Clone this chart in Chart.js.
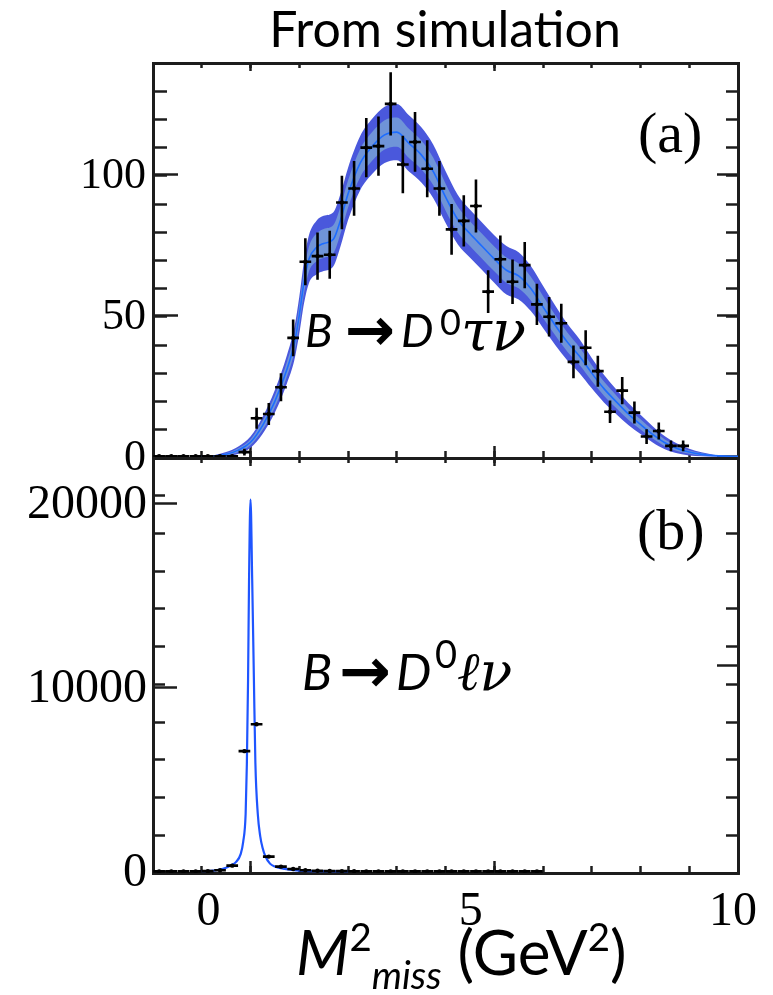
<!DOCTYPE html>
<html>
<head>
<meta charset="utf-8">
<script src="https://cdn.jsdelivr.net/npm/chart.js@4.4.1/dist/chart.umd.min.js"></script>
<style>
  html, body { margin: 0; padding: 0; background: #fff; }
  body { width: 773px; height: 995px; position: relative; overflow: hidden; }
  canvas { position: absolute; left: 0; top: 0; }
  .lbl { position: absolute; white-space: nowrap; color: #000; }
  .bl { display: inline-block; width: 0; height: 0; }
  .sup { font-size: 0.62em; position: relative; top: -0.62em; }
  .sub { font-size: 0.62em; position: relative; top: 0.36em; }
</style>
</head>
<body>
<canvas id="chartA" width="773" height="995"></canvas>
<canvas id="chartB" width="773" height="995"></canvas>
<script>
// panel (a): B -> D0 tau nu, simulated events per 0.25 GeV^2 bin
const binsA = [-1.875, -1.625, -1.375, -1.125, -0.875, -0.625, -0.375, -0.125,
  0.125, 0.375, 0.625, 0.875, 1.125, 1.375, 1.625, 1.875, 2.125, 2.375, 2.625, 2.875,
  3.125, 3.375, 3.625, 3.875, 4.125, 4.375, 4.625, 4.875, 5.125, 5.375, 5.625, 5.875,
  6.125, 6.375, 6.625, 6.875, 7.125, 7.375, 7.625, 7.875, 8.125, 8.375, 8.625, 8.875];
const countsA = [0, 0, 0, 0, 0, 0, 0, 1.5,
  13.5, 15.0, 24.5, 42.0, 69.0, 71.0, 71.5, 90.0, 95.0, 109.5, 110.0, 125.0,
  103.5, 111.5, 102.0, 95.0, 80.5, 83.5, 88.8, 58.4, 69.9, 61.9, 67.8, 53.9,
  49.5, 47.2, 33.5, 38.5, 30.2, 15.8, 23.3, 15.5, 7.0, 9.0, 3.7, 3.7];
const errorsA = [0, 0, 0, 0, 0, 0, 0, 1.2,
  3.7, 3.9, 5.0, 6.5, 8.3, 8.4, 8.5, 9.5, 9.7, 10.5, 10.5, 11.2,
  10.2, 10.6, 10.1, 9.7, 9.0, 9.1, 9.4, 7.6, 8.4, 7.9, 8.2, 7.3,
  7.0, 6.9, 5.8, 6.2, 5.5, 4.0, 4.8, 3.9, 2.6, 3.0, 1.9, 1.9];

// fitted shape for (a) with its two error bands (half widths)
const fitXA = [-1, -0.75, -0.5, -0.25, 0, 0.25, 0.5, 0.75, 0.9, 1.0, 1.1, 1.2, 1.35, 1.5,
  1.7, 1.85, 2.0, 2.25, 2.5, 2.75, 3.0, 3.25, 3.5, 3.75, 4.0, 4.25, 4.5, 4.75, 5.0,
  5.25, 5.5, 5.75, 6.0, 6.25, 6.5, 6.75, 7.0, 7.25, 7.5, 7.75, 8.0, 8.25, 8.5, 8.75,
  9.0, 9.25, 9.5, 9.75, 10];
const fitYA = [0, 0.1, 0.7, 2.2, 5.0, 11, 19.5, 31, 40, 50, 62, 70, 74, 75.5,
  77, 84, 93, 104, 110, 114, 115, 111, 107, 101, 92, 84, 79, 74.5, 70,
  66, 64, 59.5, 53, 46.5, 40.5, 35.5, 29.5, 24, 19.4, 15, 11.3, 7.8, 4.8, 2.8,
  1.5, 0.7, 0.25, 0.05, 0];
const bandOuterA = [0, 0.3, 0.8, 1.3, 2.0, 3.0, 4.0, 5.0, 5.8, 6.5, 7.5, 8.5, 9.5, 9.8,
  9.6, 9.3, 9.3, 9.6, 9.8, 10, 10, 10, 9.8, 9.5, 9.2, 8.8, 8.5, 8.4, 8.4,
  8.6, 8.4, 8.0, 7.5, 7.0, 6.5, 6.0, 5.4, 4.9, 4.4, 3.9, 3.4, 2.9, 2.3, 1.7,
  1.2, 0.7, 0.3, 0.1, 0];
const bandInnerA = [0, 0.15, 0.4, 0.7, 1.0, 1.6, 2.1, 2.6, 3.0, 3.4, 3.9, 4.4, 4.9, 5.1,
  5.0, 4.8, 4.8, 5.0, 5.1, 5.2, 5.2, 5.2, 5.1, 4.9, 4.8, 4.6, 4.4, 4.4, 4.4,
  4.5, 4.4, 4.2, 3.9, 3.6, 3.4, 3.1, 2.8, 2.5, 2.3, 2.0, 1.8, 1.5, 1.2, 0.9,
  0.6, 0.4, 0.15, 0.05, 0];

// panel (b): B -> D0 l nu
const binsB = [-1.875, -1.625, -1.375, -1.125, -0.875, -0.625, -0.375, -0.125,
  0.125, 0.375, 0.625, 0.875, 1.125, 1.375, 1.625, 1.875, 2.125, 2.375, 2.625, 2.875,
  3.125, 3.375, 3.625, 3.875, 4.125, 4.375, 4.625, 4.875, 5.125, 5.375, 5.625, 5.875];
const countsB = [0, 0, 0, 0, 10, 60, 310, 6530,
  7990, 800, 255, 130, 60, 30, 15, 10, 5, 0, 0, 0,
  0, 0, 0, 0, 0, 0, 0, 0, 0, 0, 0, 0];
const errorsB = [0, 0, 0, 0, 3, 8, 18, 81,
  89, 28, 16, 11, 8, 5, 4, 3, 2, 0, 0, 0,
  0, 0, 0, 0, 0, 0, 0, 0, 0, 0, 0, 0];
const fitXB = [-1, -0.75, -0.5, -0.4, -0.3, -0.2, -0.15, -0.1, -0.075, -0.05, -0.03, 0,
  0.035, 0.07, 0.1, 0.15, 0.2, 0.25, 0.3, 0.4, 0.5, 0.7, 1.0, 1.5, 2];
const fitYB = [5, 40, 200, 330, 500, 950, 1600, 3100, 5800, 10400, 15800, 20200,
  15800, 10400, 5900, 3100, 1900, 1250, 850, 420, 260, 130, 40, 10, 0];

// axes
const xRange = [-2, 10];
const yRangeA = [-0.6, 139.5];
const yRangeB = [-90, 22460];
const yTicksA = [0, 50, 100];
const yTicksB = [0, 10000, 20000];
const xTickLabels = [0, 5, 10];
const binHalf = 0.12;

const frame = '#1d1d1d';
const serif = 'Liberation Serif';

function zeroSize(s) { if (s.isHorizontal()) s.height = 0; else s.width = 0; }

function tickAxis(position, range, step, len, weight, withBorder) {
  return {
    type: 'linear', display: true, position, min: range[0], max: range[1], weight,
    grid: { drawOnChartArea: false, drawTicks: true, tickLength: -len, tickWidth: 2.5, tickColor: frame },
    border: { display: withBorder, width: 3, color: frame },
    ticks: { display: false, stepSize: step, includeBounds: false },
    afterFit: zeroSize
  };
}

function labelAxisY(range, ticks, len, size, pad) {
  return {
    type: 'linear', position: 'left', min: range[0], max: range[1], weight: 1,
    grid: { drawOnChartArea: false, tickLength: -len, tickWidth: 2.5, tickColor: frame },
    border: { display: true, width: 3, color: frame },
    ticks: { padding: pad, labelOffset: 2, color: '#000', autoSkip: false,
      font: { family: serif, size: size }, callback: v => String(v) },
    afterBuildTicks: s => { s.ticks = ticks.map(v => ({ value: v })); },
    afterFit: s => { s.width = 153; }
  };
}

function vBars(xs, ys, es) {
  const out = [];
  xs.forEach((x, i) => { out.push({ x, y: ys[i] - es[i] }, { x, y: ys[i] + es[i] }, { x, y: null }); });
  return out;
}
function hBars(xs, ys) {
  const out = [];
  xs.forEach((x, i) => { out.push({ x: x - binHalf, y: ys[i] }, { x: x + binHalf, y: ys[i] }, { x, y: null }); });
  return out;
}
const pts = (xs, ys) => xs.map((x, i) => ({ x, y: ys[i] }));

function barSets(xs, ys, es) {
  return [
    { data: vBars(xs, ys, es), borderColor: '#000', borderWidth: 2.6, pointRadius: 0, spanGaps: false, order: 1 },
    { data: hBars(xs, ys), borderColor: '#000', borderWidth: 2.6, pointRadius: 0, spanGaps: false, order: 1 },
    { data: pts(xs, ys), showLine: false, pointRadius: 2.2, pointBorderWidth: 0, pointBackgroundColor: '#000', order: 0 }
  ];
}

const common = {
  responsive: false, animation: false, events: [],
  plugins: { legend: { display: false }, tooltip: { enabled: false } }
};

// top chart (a)
new Chart(document.getElementById('chartA'), {
  type: 'line',
  data: {
    datasets: [
      { data: fitXA.map((x, i) => ({ x, y: fitYA[i] + bandOuterA[i] })), fill: '+1', backgroundColor: '#4a58dc',
        borderWidth: 0, borderColor: 'transparent', pointRadius: 0, cubicInterpolationMode: 'monotone', order: 4 },
      { data: fitXA.map((x, i) => ({ x, y: fitYA[i] - bandOuterA[i] })), fill: false,
        borderWidth: 0, borderColor: 'transparent', pointRadius: 0, cubicInterpolationMode: 'monotone', order: 4 },
      { data: fitXA.map((x, i) => ({ x, y: fitYA[i] + bandInnerA[i] })), fill: '+1', backgroundColor: '#6f94d8',
        borderWidth: 0, borderColor: 'transparent', pointRadius: 0, cubicInterpolationMode: 'monotone', order: 3 },
      { data: fitXA.map((x, i) => ({ x, y: fitYA[i] - bandInnerA[i] })), fill: false,
        borderWidth: 0, borderColor: 'transparent', pointRadius: 0, cubicInterpolationMode: 'monotone', order: 3 },
      { data: pts(fitXA, fitYA), borderColor: '#1c6cff', borderWidth: 1.6, pointRadius: 0,
        cubicInterpolationMode: 'monotone', fill: false, order: 2 },
      ...barSets(binsA, countsA, errorsA)
    ]
  },
  options: Object.assign({}, common, {
    layout: { autoPadding: false, padding: { left: 0, right: 35, top: 63, bottom: 537 } },
    scales: {
      x: tickAxis('bottom', xRange, 5, 12, 1, true),
      xMinor: tickAxis('bottom', xRange, 1, 7, 0, false),
      xTop: tickAxis('top', xRange, 5, 8, 1, true),
      xTopMinor: tickAxis('top', xRange, 1, 5, 0, false),
      y: labelAxisY(yRangeA, yTicksA, 25, 44, 32),
      yMinor: tickAxis('left', yRangeA, 10, 14, 0, false),
      yRight: tickAxis('right', yRangeA, 50, 21, 1, true),
      yRightMinor: tickAxis('right', yRangeA, 10, 12, 0, false)
    }
  })
});

// bottom chart (b)
new Chart(document.getElementById('chartB'), {
  type: 'line',
  data: {
    datasets: [
      { data: pts(fitXB, fitYB), borderColor: '#1f55ff', borderWidth: 2.2, pointRadius: 0,
        cubicInterpolationMode: 'monotone', fill: false, order: 2 },
      ...barSets(binsB, countsB, errorsB)
    ]
  },
  options: Object.assign({}, common, {
    layout: { autoPadding: false, padding: { left: 0, right: 35, top: 458, bottom: 42 } },
    scales: {
      x: tickAxis('bottom', xRange, 5, 12, 1, true),
      xMinor: tickAxis('bottom', xRange, 1, 7, 0, false),
      xLab: {
        type: 'linear', position: 'bottom', min: -1.056, max: 10.095, weight: 2,
        grid: { display: false, drawTicks: false }, border: { display: false },
        ticks: { padding: 11, color: '#000', autoSkip: false, maxRotation: 0,
          font: { family: serif, size: 48 }, callback: v => String(v) },
        afterBuildTicks: s => { s.ticks = xTickLabels.map(v => ({ value: v })); },
        afterFit: s => { s.height = 80; }
      },
      xTop: tickAxis('top', xRange, 5, 8, 1, true),
      xTopMinor: tickAxis('top', xRange, 1, 5, 0, false),
      y: labelAxisY(yRangeB, yTicksB, 24, 48, 30),
      yMinor: tickAxis('left', yRangeB, 2000, 12, 0, false),
      yRight: tickAxis('right', yRangeB, 10000, 21, 1, true),
      yRightMinor: tickAxis('right', yRangeB, 2000, 12, 0, false)
    }
  })
});

// text placed by baseline
function placeText(html, x, base, font, align) {
  const el = document.createElement('div');
  el.className = 'lbl';
  el.style.font = font;
  el.innerHTML = html + '<span class="bl"></span>';
  document.body.appendChild(el);
  const b = el.querySelector('.bl').offsetTop;
  const w = el.getBoundingClientRect().width;
  el.style.top = (base - b) + 'px';
  el.style.left = (align === 'center' ? x - w / 2 : align === 'right' ? x - w : x) + 'px';
}

placeText('From simulation', 445, 47, '50px Lato', 'center');
placeText('(a)', 638, 152, "58px 'Liberation Serif'", 'left');
placeText('(b)', 637, 549, "58px 'Liberation Serif'", 'left');

placeText('B', 305, 347, "italic 46px Lato", 'left');
placeText('→', 345, 350, "bold 60px 'DejaVu Sans'", 'left');
placeText('D', 401, 347, "italic 46px Lato", 'left');
placeText('0', 440, 335, "36px Lato", 'left');
placeText('τν', 461, 350, "italic 56px 'DejaVu Serif'", 'left');

placeText('B', 302, 690, "italic 50px Lato", 'left');
placeText('→', 339, 692, "bold 62px 'DejaVu Sans'", 'left');
placeText('D', 396, 690, "italic 50px Lato", 'left');
placeText('0', 435, 668, "38px Lato", 'left');
placeText('ℓν', 457, 690, "italic 54px 'DejaVu Serif'", 'left');

placeText('<i>M</i><span class="sup">2</span><i class="sub">miss</i> (GeV<span class="sup">2</span>)',
  296, 975, '62px Lato', 'left');
</script>
</body>
</html>
